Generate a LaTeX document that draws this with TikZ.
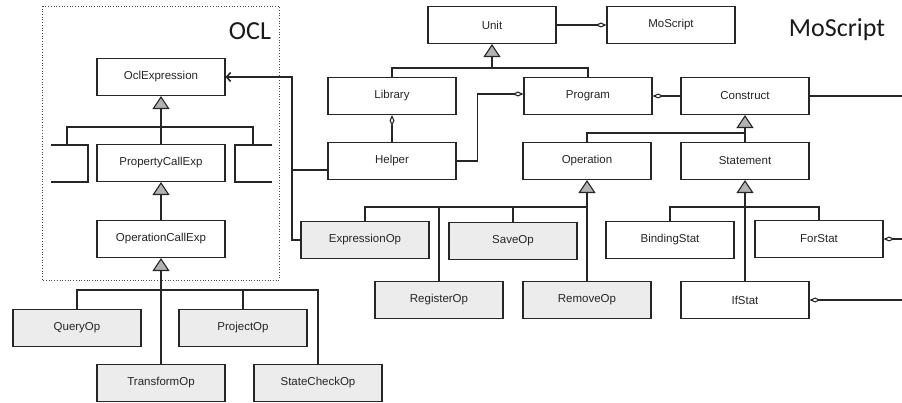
\documentclass[tikz,border=0pt]{standalone}
\usepackage{fontspec}
\setmainfont{Liberation Sans}
\newfontfamily\titlefont{Carlito}
\usetikzlibrary{arrows.meta,positioning}

\tikzset{
  cls/.style={draw=black!85, fill=white, minimum width=128pt, minimum height=37pt,
    inner sep=0pt, text=black!85, font=\fontsize{11.5}{13}\selectfont},
  opcls/.style={cls, fill=gray!15},
  title/.style={text=black!90, font=\titlefont\fontsize{26}{30}\selectfont},
  inh/.style={-{Triangle[fill=gray!60, length=13pt, width=17pt]}},
  agg/.style={-{Diamond[open, length=11pt, width=5pt]}},
  ref/.style={-{Straight Barb[length=4pt, width=9pt, line width=1.6pt]}},
}

\begin{document}
\begin{tikzpicture}[x=1pt, y=-1pt, line width=1.1pt, black!85]
\useasboundingbox (0,0) rectangle (902,403);

% OCL package
\draw[dotted, line width=0.7pt, black!70] (42,6) rectangle (279,280);
\node[title] (ocltitle) at (250,31) {OCL};
\node[cls] (oclexp) at (161,77) {OclExpression};
\node[cls] (propcall) at (161,163) {PropertyCallExp};
\node[cls] (opcall) at (161,239) {OperationCallExp};
% cut-off sibling classes
\draw[black!85] (51,145) -| (88,182) -- (51,182);
\draw[black!85] (272,145) -| (235,182) -- (272,182);
\coordinate (leftstub) at (67,145);
\coordinate (rightstub) at (253,145);
\coordinate (oclbar) at (161,127);

% operations built on OperationCallExp
\node[opcls] (query) at (77,328) {QueryOp};
\node[opcls] (project) at (243,328) {ProjectOp};
\node[opcls] (transform) at (161,383) {TransformOp};
\node[opcls] (statecheck) at (318,383) {StateCheckOp};
\coordinate (opbar) at (161,290);

% MoScript package
\node[title] (mstitle) at (837,30) {MoScript};
\node[cls] (unit) at (492,25) {Unit};
\node[cls] (moscript) at (671,25) {MoScript};
\node[cls] (library) at (392,96) {Library};
\node[cls] (program) at (588,96) {Program};
\node[cls] (construct) at (745,96) {Construct};
\node[cls] (helper) at (392,161) {Helper};
\node[cls] (operation) at (587,161) {Operation};
\node[cls] (stmt) at (745,161) {Statement};
\node[opcls] (exprop) at (365,240) {ExpressionOp};
\node[opcls] (save) at (513,241) {SaveOp};
\node[opcls] (register) at (439,300) {RegisterOp};
\node[opcls] (remove) at (587,300) {RemoveOp};
\node[cls] (binding) at (670,240) {BindingStat};
\node[cls] (forstat) at (819,239) {ForStat};
\node[cls] (ifstat) at (745,300) {IfStat};
\coordinate (unitbar) at (492,68);
\coordinate (conbar) at (745,133);
\coordinate (operbar) at (587,207);
\coordinate (stmtbar) at (745,207);
\coordinate (hub) at (292,170);
\coordinate (edgecon) at (902,96);
\coordinate (edgefor) at (902,239);
\coordinate (edgeif) at (902,300);

% generalisations
\draw[inh] (oclbar) -- (oclexp.south);
\draw (leftstub) |- (oclbar) -| (rightstub);
\draw (propcall.north) -- (oclbar);
\draw[inh] (opcall.north) -- (propcall.south);
\draw[inh] (transform.north) -- (opcall.south);
\draw (query.north) |- (opbar) -| (statecheck.north);
\draw (project.north) |- (opbar);
\draw[inh] (unitbar) -- (unit.south);
\draw (library.north) |- (unitbar) -| (program.north);
\draw[inh] (stmt.north) -- (construct.south);
\draw (operation.north) |- (conbar);
\draw[inh] (remove.north) -- (operation.south);
\draw (exprop.north) |- (operbar);
\draw (save.north) |- (operbar);
\draw (register.north) |- (operbar);
\draw[inh] (ifstat.north) -- (stmt.south);
\draw (binding.north) |- (stmtbar) -| (forstat.north);

% aggregations
\draw[agg] (unit.east) -- (moscript.west);
\draw[agg] (helper.north) -- (library.south);
\draw[agg] (helper.east) -- ++(21,0) |- ([yshift=2pt]program.west);
\draw[agg] (construct.west) -- (program.east);
\draw (construct.east) -- (edgecon);
\draw[agg] (edgefor) -- (forstat.east);
\draw[agg] (edgeif) -- (ifstat.east);

% Helper and ExpressionOp refer to OclExpression
\draw[ref] (hub) |- (oclexp.east);
\draw (hub) |- (exprop.west);
\draw (hub) -- ([yshift=-9pt]helper.west);
\end{tikzpicture}
\end{document}
